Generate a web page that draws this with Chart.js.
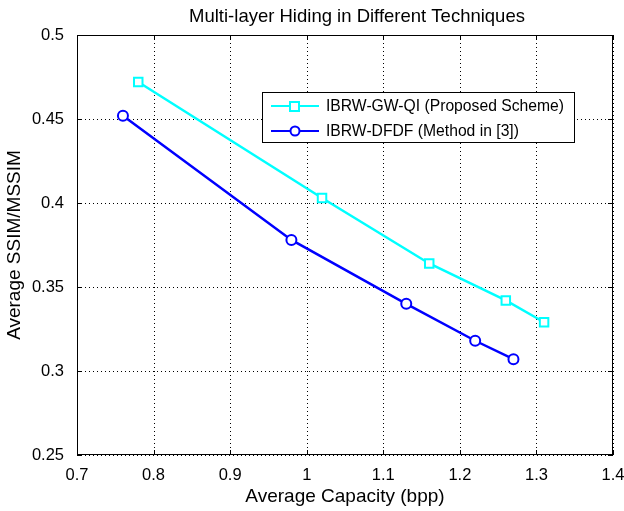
<!DOCTYPE html>
<html>
<head>
<meta charset="utf-8">
<script src="https://cdn.jsdelivr.net/npm/chart.js@4"></script>
<style>
  html, body { margin: 0; padding: 0; background: #fff; }
  #wrap { width: 624px; height: 511px; }
</style>
</head>
<body>
<div id="wrap"><canvas id="chart" width="624" height="511"></canvas></div>
<script>
// data
const seriesNames = ['IBRW-GW-QI (Proposed Scheme)', 'IBRW-DFDF (Method in [3])'];
const proposedX = [0.78, 1.02, 1.16, 1.26, 1.31];
const proposedY = [0.472, 0.403, 0.364, 0.342, 0.329];
const dfdfX = [0.76, 0.98, 1.13, 1.22, 1.27];
const dfdfY = [0.452, 0.378, 0.340, 0.318, 0.307];
const xTicks = [0.7, 0.8, 0.9, 1.0, 1.1, 1.2, 1.3, 1.4];
const yTicks = [0.25, 0.3, 0.35, 0.4, 0.45, 0.5];

const FONT = '"Liberation Sans", Arial, Helvetica, sans-serif';

function pts(xs, ys) {
    return xs.map(function(x, i) { return { x: x, y: ys[i] }; });
}

// dotted MATLAB grid, drawn under the lines
const dottedGrid = {
    id: 'dottedGrid',
    beforeDatasetsDraw: function(chart) {
        const c = chart.ctx;
        const a = chart.chartArea;
        const xs = chart.scales.x, ys = chart.scales.y;
        c.save();
        c.strokeStyle = '#000';
        c.lineWidth = 1;
        c.setLineDash([1, 3]);
        c.beginPath();
        xTicks.forEach(function(v) {
            const px = Math.round(xs.getPixelForValue(v)) + 0.5;
            c.moveTo(px, a.top); c.lineTo(px, a.bottom);
        });
        yTicks.forEach(function(v) {
            const py = Math.round(ys.getPixelForValue(v)) + 0.5;
            c.moveTo(a.left, py); c.lineTo(a.right, py);
        });
        c.stroke();
        c.restore();
    }
};

// frame, inward ticks, title and legend box
const matlabFrame = {
    id: 'matlabFrame',
    afterDraw: function(chart) {
        const c = chart.ctx;
        const a = chart.chartArea;
        const xs = chart.scales.x, ys = chart.scales.y;
        c.save();
        c.strokeStyle = '#000';
        c.lineWidth = 1;
        c.setLineDash([]);
        c.strokeRect(Math.round(a.left) + 0.5, Math.round(a.top) + 0.5,
                     Math.round(a.right - a.left) - 1, Math.round(a.bottom - a.top) - 1);
        c.beginPath();
        xTicks.forEach(function(v) {
            const px = Math.round(xs.getPixelForValue(v)) + 0.5;
            c.moveTo(px, a.bottom); c.lineTo(px, a.bottom - 5);
            c.moveTo(px, a.top); c.lineTo(px, a.top + 5);
        });
        yTicks.forEach(function(v) {
            const py = Math.round(ys.getPixelForValue(v)) + 0.5;
            c.moveTo(a.left, py); c.lineTo(a.left + 5, py);
            c.moveTo(a.right, py); c.lineTo(a.right - 5, py);
        });
        c.stroke();

        // title
        c.fillStyle = '#000';
        c.font = '18.5px ' + FONT;
        c.textAlign = 'center';
        c.textBaseline = 'middle';
        c.fillText('Multi-layer Hiding in Different Techniques', 357, 17);

        // legend
        const lx = 262, ly = 92, lw = 312, lh = 50;
        c.fillStyle = '#fff';
        c.fillRect(lx, ly, lw, lh);
        c.strokeStyle = '#000';
        c.strokeRect(lx + 0.5, ly + 0.5, lw, lh);
        chart.data.datasets.forEach(function(ds, i) {
            const y = ly + 14 + i * 25;
            c.strokeStyle = ds.borderColor;
            c.lineWidth = 2;
            c.beginPath();
            c.moveTo(271, y); c.lineTo(319, y);
            c.stroke();
            c.beginPath();
            if (ds.pointStyle === 'rect') {
                c.fillStyle = '#fff';
                c.fillRect(290, y - 4, 9, 9);
                c.strokeRect(290, y - 4, 9, 9);
            } else {
                c.fillStyle = '#fff';
                c.arc(295, y, 4.5, 0, Math.PI * 2);
                c.fill();
                c.stroke();
            }
            c.fillStyle = '#000';
            c.font = '15.7px ' + FONT;
            c.textAlign = 'left';
            c.fillText(ds.label, 326, y + 1);
        });
        c.restore();
    }
};

new Chart(document.getElementById('chart').getContext('2d'), {
    type: 'line',
    data: {
        datasets: [{
            label: seriesNames[0],
            data: pts(proposedX, proposedY),
            borderColor: '#00ffff',
            backgroundColor: '#fff',
            pointBackgroundColor: '#fff',
            pointStyle: 'rect',
            pointRadius: 6,
            pointBorderWidth: 2,
            borderWidth: 2.5,
            tension: 0
        }, {
            label: seriesNames[1],
            data: pts(dfdfX, dfdfY),
            borderColor: '#0000ff',
            backgroundColor: '#fff',
            pointBackgroundColor: '#fff',
            pointStyle: 'circle',
            pointRadius: 5,
            pointBorderWidth: 2,
            borderWidth: 2.5,
            tension: 0
        }]
    },
    options: {
        responsive: false,
        animation: false,
        layout: { padding: { top: 35, right: 0, left: 0, bottom: 0 } },
        plugins: {
            legend: { display: false },
            title: { display: false },
            tooltip: { enabled: false }
        },
        scales: {
            x: {
                type: 'linear',
                min: 0.7,
                max: 1.4,
                afterBuildTicks: function(s) { s.ticks = xTicks.map(function(v) { return { value: v }; }); },
                afterFit: function(s) { s.height = 56; s.paddingRight = 11; },
                grid: { display: false },
                border: { display: false },
                ticks: {
                    color: '#000',
                    padding: 3,
                    maxRotation: 0,
                    font: { family: FONT, size: 16.5 },
                    callback: function(v) { return String(Math.round(v * 10) / 10); }
                },
                title: {
                    display: true,
                    text: 'Average Capacity (bpp)',
                    color: '#000',
                    font: { family: FONT, size: 19 },
                    padding: { top: 4, bottom: 3 }
                }
            },
            y: {
                type: 'linear',
                min: 0.25,
                max: 0.5,
                afterBuildTicks: function(s) { s.ticks = yTicks.map(function(v) { return { value: v }; }); },
                afterFit: function(s) { s.width = 77; },
                grid: { display: false },
                border: { display: false },
                ticks: {
                    color: '#000',
                    padding: 5,
                    font: { family: FONT, size: 16.5 },
                    callback: function(v) { return String(Math.round(v * 100) / 100); }
                },
                title: {
                    display: true,
                    text: 'Average SSIM/MSSIM',
                    color: '#000',
                    font: { family: FONT, size: 19 },
                    padding: { top: 3, bottom: 6 }
                }
            }
        }
    },
    plugins: [dottedGrid, matlabFrame]
});
</script>
</body>
</html>
